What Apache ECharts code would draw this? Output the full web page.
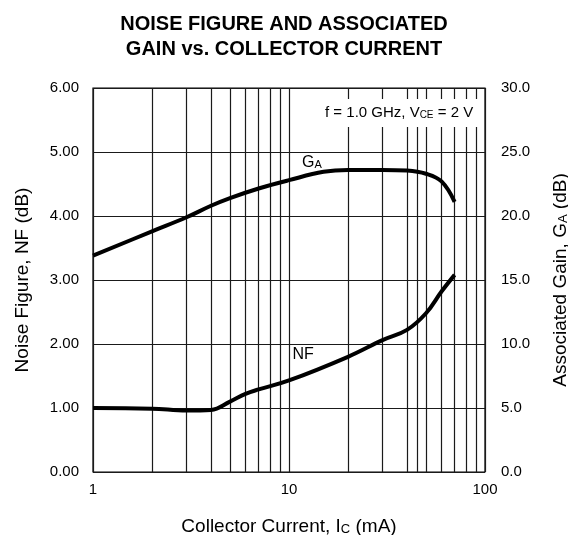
<!DOCTYPE html>
<html>
<head>
<meta charset="utf-8">
<script src="https://cdn.jsdelivr.net/npm/echarts@6/dist/echarts.min.js"></script>
<style>
  html, body { margin: 0; padding: 0; background: #fff; }
  #chart { width: 568px; height: 535px; }
</style>
</head>
<body>
<div id="chart"></div>
<script>
// Collector current (mA) sample points
const currentNF = [1, 2, 3, 4, 5, 6, 7, 10, 20, 30, 40, 50, 60, 70];
// Noise figure NF (dB)
const noiseFigure = [1.00, 0.99, 0.96, 0.97, 1.10, 1.22, 1.29, 1.43, 1.80, 2.06, 2.22, 2.48, 2.82, 3.08];

const currentGA = [1, 2, 3, 4, 5, 7, 10, 15, 20, 30, 40, 50, 60, 70];
// Associated gain GA (dB)
const assocGain = [16.9, 18.8, 19.9, 20.8, 21.4, 22.15, 22.8, 23.45, 23.6, 23.6, 23.55, 23.3, 22.7, 21.1];

// Axis ranges and the vertical grid inside each decade
const leftTicks = [0, 1, 2, 3, 4, 5, 6];
const rightTicks = [0, 5, 10, 15, 20, 25, 30];
const minorGrid = [2, 3, 4, 5, 6, 7, 8, 9, 20, 30, 40, 45, 50, 60, 70, 80, 90];

const FONT = 'Liberation Sans, Arial, sans-serif';
const GRID_LINE = { color: '#1a1a1a', width: 1.2 };

const chart = echarts.init(document.getElementById('chart'), null, { renderer: 'canvas' });

const option = {
  animation: false,
  backgroundColor: '#fff',
  title: {
    text: 'NOISE FIGURE AND ASSOCIATED\nGAIN vs. COLLECTOR CURRENT',
    left: 'center',
    top: 7,
    textStyle: { fontFamily: FONT, fontWeight: 'bold', fontSize: 20, lineHeight: 25, color: '#000' }
  },
  grid: {
    left: 93, right: 83, top: 88, bottom: 63,
    outerBoundsMode: 'none',
    show: true, borderColor: '#000', borderWidth: 1.2
  },
  xAxis: {
    type: 'log',
    logBase: 10,
    min: 1,
    max: 100,
    name: '{t|Collector Current, I}{s|C}{t| (mA)}',
    nameLocation: 'middle',
    nameGap: 45,
    nameTextStyle: {
      rich: {
        t: { fontSize: 19, fontFamily: FONT, color: '#000' },
        s: { fontSize: 13, fontFamily: FONT, color: '#000', padding: [6, 0, 0, 0] }
      }
    },
    axisLine: { show: false },
    axisTick: { show: false },
    splitLine: { show: true, lineStyle: GRID_LINE },
    axisLabel: {
      fontFamily: FONT, fontSize: 15, color: '#000', margin: 10,
      formatter: v => String(Math.round(v))
    }
  },
  yAxis: [
    {
      type: 'value',
      min: leftTicks[0],
      max: leftTicks[leftTicks.length - 1],
      interval: 1,
      name: 'Noise Figure, NF (dB)',
      nameLocation: 'middle',
      nameGap: 61,
      nameTextStyle: { fontSize: 19, fontFamily: FONT, color: '#000' },
      axisLine: { show: false },
      axisTick: { show: false },
      splitLine: { show: true, lineStyle: GRID_LINE },
      axisLabel: { fontFamily: FONT, fontSize: 15, color: '#000', margin: 14, formatter: v => v.toFixed(2) }
    },
    {
      type: 'value',
      min: rightTicks[0],
      max: rightTicks[rightTicks.length - 1],
      interval: 5,
      name: '{t|Associated Gain, G}{s|A}{t| (dB)}',
      nameLocation: 'middle',
      nameGap: 66,
      nameRotate: 90,
      nameTextStyle: {
        rich: {
          t: { fontSize: 19, fontFamily: FONT, color: '#000' },
          s: { fontSize: 13, fontFamily: FONT, color: '#000', padding: [6, 0, 0, 0] }
        }
      },
      axisLine: { show: false },
      axisTick: { show: false },
      splitLine: { show: false },
      axisLabel: { fontFamily: FONT, fontSize: 15, color: '#000', margin: 16, formatter: v => v.toFixed(1) }
    }
  ],
  series: [
    {
      name: 'NF',
      type: 'line',
      yAxisIndex: 0,
      data: currentNF.map((c, i) => [c, noiseFigure[i]]),
      smooth: 0.4,
      symbol: 'none',
      z: 5,
      lineStyle: { color: '#000', width: 4 },
      markLine: {
        silent: true,
        symbol: 'none',
        z: 1,
        label: { show: false },
        lineStyle: Object.assign({ type: 'solid' }, GRID_LINE),
        data: minorGrid.map(v => ({ xAxis: v }))
      }
    },
    {
      name: 'GA',
      type: 'line',
      yAxisIndex: 1,
      data: currentGA.map((c, i) => [c, assocGain[i]]),
      smooth: 0.4,
      symbol: 'none',
      z: 5,
      lineStyle: { color: '#000', width: 4 }
    }
  ]
};

chart.setOption(option);

// Curve labels and the test-condition note, anchored in data coordinates
const gaPos = chart.convertToPixel({ xAxisIndex: 0, yAxisIndex: 1 }, [13.1, 24.15]);
const nfPos = chart.convertToPixel({ xAxisIndex: 0, yAxisIndex: 0 }, [11.8, 1.83]);
const notePos = chart.convertToPixel({ xAxisIndex: 0, yAxisIndex: 0 }, [87, 5.61]);

function txt(size) {
  return { fontSize: size, fontFamily: FONT, font: size + 'px ' + FONT, fill: '#000' };
}
function sub(size) {
  return Object.assign(txt(size), { padding: [Math.round(size * 0.45), 0, 0, 0] });
}

chart.setOption({
  graphic: [
    {
      type: 'text', z: 100, x: gaPos[0], y: gaPos[1],
      style: Object.assign(txt(16), {
        text: '{t|G}{s|A}', align: 'center', verticalAlign: 'middle',
        rich: { t: txt(16), s: sub(11) }
      })
    },
    {
      type: 'text', z: 100, x: nfPos[0], y: nfPos[1],
      style: Object.assign(txt(16), { text: 'NF', align: 'center', verticalAlign: 'middle' })
    },
    {
      type: 'rect', z: 99,
      shape: { x: notePos[0] - 166, y: notePos[1] - 14, width: 172, height: 28 },
      style: { fill: '#fff' }
    },
    {
      type: 'text', z: 100, x: notePos[0], y: notePos[1],
      style: Object.assign(txt(15), {
        text: '{t|f = 1.0 GHz, V}{s|CE}{t| = 2 V}', align: 'right', verticalAlign: 'middle',
        rich: { t: txt(15), s: sub(10) }
      })
    }
  ]
});
</script>
</body>
</html>
